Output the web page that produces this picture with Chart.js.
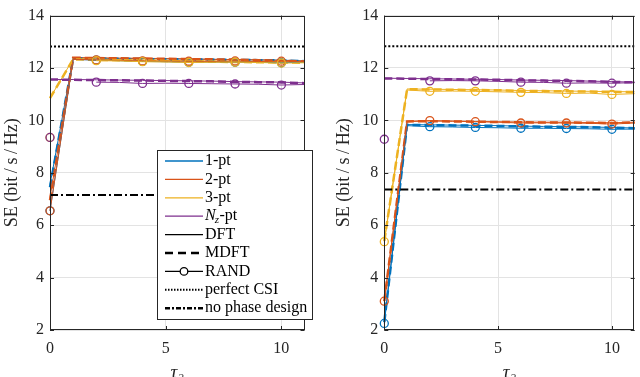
<!DOCTYPE html>
<html>
<head>
<meta charset="utf-8">
<script src="https://cdn.jsdelivr.net/npm/chart.js@4.4.1/dist/chart.umd.min.js"></script>
<style>
  html, body { margin: 0; padding: 0; background: #fff; }
  #wrap { position: relative; width: 640px; height: 377px; overflow: hidden; }
  canvas { position: absolute; top: 0; }
  #left { left: 0; }
  #right { left: 320px; }
</style>
</head>
<body>
<div id="wrap">
  <canvas id="left" width="320" height="377"></canvas>
  <canvas id="right" width="320" height="377"></canvas>
</div>
<script>
const tau = [0, 1, 2, 3, 4, 5, 6, 7, 8, 9, 10, 11];
const methods = ['1-pt', '2-pt', '3-pt', 'Nz-pt'];
const colors = ['#0072BD', '#D95319', '#EDB120', '#7E2F8E'];
const yTicks = [2, 4, 6, 8, 10, 12, 14];
const xTicks = [0, 5, 10];

// left panel
const leftDFT1  = [7.55, 12.38, 12.37, 12.36, 12.36, 12.35, 12.34, 12.33, 12.32, 12.31, 12.30, 12.27];
const leftMDFT1 = [7.45, 12.36, 12.36, 12.35, 12.34, 12.33, 12.33, 12.32, 12.31, 12.30, 12.29, 12.26];
const leftRAND1 = [6.55, 12.33, 12.30, 12.28, 12.25, 12.24, 12.22, 12.23, 12.22, 12.22, 12.20, 12.22];
const leftDFT2  = [7.05, 12.40, 12.39, 12.38, 12.37, 12.36, 12.35, 12.33, 12.32, 12.31, 12.29, 12.26];
const leftMDFT2 = [6.95, 12.39, 12.38, 12.37, 12.36, 12.35, 12.34, 12.33, 12.32, 12.30, 12.28, 12.25];
const leftRAND2 = [6.55, 12.33, 12.31, 12.29, 12.27, 12.26, 12.26, 12.25, 12.27, 12.25, 12.26, 12.24];
const leftDFT3  = [10.85, 12.35, 12.33, 12.32, 12.30, 12.29, 12.27, 12.26, 12.25, 12.24, 12.23, 12.21];
const leftMDFT3 = [10.85, 12.33, 12.31, 12.30, 12.28, 12.27, 12.25, 12.24, 12.23, 12.22, 12.21, 12.20];
const leftRAND3 = [9.35, null, 12.28, 12.27, 12.24, 12.23, 12.21, 12.22, 12.22, 12.21, 12.19, 12.20];
const leftDFTN  = [11.56, 11.56, 11.55, 11.54, 11.53, 11.52, 11.51, 11.50, 11.48, 11.47, 11.46, 11.43];
const leftMDFTN = [11.56, 11.55, 11.54, 11.53, 11.52, 11.51, 11.50, 11.49, 11.47, 11.46, 11.45, 11.42];
const leftRANDN = [9.35, null, 11.46, 11.45, 11.41, 11.42, 11.41, 11.40, 11.39, 11.38, 11.35, 11.37];
const leftPerfect = 12.82;
const leftNoPhase = 7.15;

// right panel
const rightDFT1  = [2.30, 9.84, 9.83, 9.82, 9.81, 9.80, 9.78, 9.77, 9.76, 9.75, 9.73, 9.71];
const rightMDFT1 = [2.30, 9.83, 9.82, 9.81, 9.80, 9.79, 9.77, 9.76, 9.75, 9.74, 9.72, 9.70];
const rightRAND1 = [2.25, 9.80, 9.76, 9.75, 9.73, 9.72, 9.70, 9.70, 9.69, 9.68, 9.66, 9.67];
const rightDFT2  = [3.10, 9.97, 9.98, 9.97, 9.96, 9.95, 9.94, 9.93, 9.93, 9.92, 9.91, 9.93];
const rightMDFT2 = [3.10, 9.96, 9.97, 9.96, 9.95, 9.94, 9.93, 9.92, 9.92, 9.91, 9.90, 9.92];
const rightRAND2 = [3.10, 9.95, 9.99, 9.97, 9.95, 9.93, 9.90, 9.91, 9.90, 9.89, 9.86, 9.90];
const rightDFT3  = [5.40, 11.20, 11.19, 11.18, 11.17, 11.16, 11.14, 11.13, 11.12, 11.11, 11.10, 11.09];
const rightMDFT3 = [5.40, 11.19, 11.18, 11.17, 11.16, 11.15, 11.13, 11.12, 11.11, 11.10, 11.09, 11.08];
const rightRAND3 = [5.37, 11.16, 11.11, 11.12, 11.11, 11.09, 11.07, 11.06, 11.03, 11.04, 10.99, 11.02];
const rightDFTN  = [11.61, 11.60, 11.59, 11.58, 11.57, 11.56, 11.54, 11.53, 11.52, 11.50, 11.48, 11.46];
const rightMDFTN = [11.60, 11.59, 11.58, 11.57, 11.56, 11.55, 11.53, 11.52, 11.51, 11.49, 11.47, 11.45];
const rightRANDN = [9.28, null, 11.51, 11.52, 11.51, 11.49, 11.46, 11.45, 11.42, 11.43, 11.42, 11.44];
const rightPerfect = 12.83;
const rightNoPhase = 7.36;

const FONT = "'Liberation Serif', 'Times New Roman', serif";
const AXIS = '#262626';
Chart.defaults.font.family = FONT;
Chart.defaults.color = AXIS;

const pts = (vals) => vals.map((v, i) => ({ x: tau[i], y: v }));
const flat = (v) => [{ x: tau[0], y: v }, { x: tau[tau.length - 1], y: v }];

function styled(kind, color, vals) {
  const ds = { data: pts(vals), borderColor: color, pointRadius: 0, clip: false, spanGaps: false, tension: 0 };
  if (kind === 'dft') ds.borderWidth = 1;
  if (kind === 'mdft') { ds.borderWidth = 2.5; ds.borderDash = [8, 4]; }
  if (kind === 'rand') {
    ds.borderWidth = 1;
    ds.pointRadius = (c) => (c.dataIndex % 2 === 0 ? 4 : 0);
    ds.pointBorderWidth = 1.3;
    ds.pointBorderColor = color;
    ds.pointBackgroundColor = 'rgba(0,0,0,0)';
  }
  return ds;
}

function buildDatasets(dft, mdft, rand, perfect, noPhase) {
  const sets = [];
  // first dataset is drawn on top
  sets.push({ data: flat(perfect), borderColor: '#000', borderWidth: 2, borderDash: [2, 2], pointRadius: 0 });
  sets.push({ data: flat(noPhase), borderColor: '#000', borderWidth: 2, borderDash: [8, 3, 2, 3], pointRadius: 0 });
  for (let m = 3; m >= 0; m--) sets.push(styled('rand', colors[m], rand[m]));
  for (let m = 3; m >= 0; m--) sets.push(styled('mdft', colors[m], mdft[m]));
  for (let m = 3; m >= 0; m--) sets.push(styled('dft', colors[m], dft[m]));
  return sets;
}

// box with inward ticks, like the matlab axes
const frame = {
  id: 'frame',
  afterDatasetsDraw(chart) {
    const { ctx, chartArea: a, scales } = chart;
    ctx.save();
    ctx.strokeStyle = AXIS;
    ctx.lineWidth = 1;
    ctx.strokeRect(Math.round(a.left) + 0.5, Math.round(a.top) + 0.5,
      Math.round(a.right - a.left) - 1, Math.round(a.bottom - a.top) - 1);
    ctx.beginPath();
    xTicks.forEach((t) => {
      const px = Math.round(scales.x.getPixelForValue(t)) + 0.5;
      ctx.moveTo(px, a.bottom); ctx.lineTo(px, a.bottom - 4);
      ctx.moveTo(px, a.top); ctx.lineTo(px, a.top + 4);
    });
    yTicks.forEach((t) => {
      const py = Math.round(scales.y.getPixelForValue(t)) + 0.5;
      ctx.moveTo(a.left, py); ctx.lineTo(a.left + 4, py);
      ctx.moveTo(a.right, py); ctx.lineTo(a.right - 4, py);
    });
    ctx.stroke();
    ctx.restore();
  }
};

const legendRows = [
  { text: '1-pt', color: colors[0] },
  { text: '2-pt', color: colors[1] },
  { text: '3-pt', color: colors[2] },
  { text: 'Nz-pt', color: colors[3] },
  { text: 'DFT', color: '#000' },
  { text: 'MDFT', color: '#000', width: 2.5, dash: [8, 5] },
  { text: 'RAND', color: '#000', marker: true },
  { text: 'perfect CSI', color: '#000', width: 2, dash: [1.5, 1.5] },
  { text: 'no phase design', color: '#000', width: 2.5, dash: [5, 2, 2, 2] }
];

const legendBox = {
  id: 'legendBox',
  afterDraw(chart) {
    const ctx = chart.ctx;
    const x0 = 157.5, y0 = 150.5, w = 155, h = 169;
    ctx.save();
    ctx.fillStyle = '#fff';
    ctx.fillRect(x0, y0, w, h);
    ctx.strokeStyle = AXIS;
    ctx.lineWidth = 1;
    ctx.strokeRect(x0, y0, w, h);
    legendRows.forEach((r, i) => {
      const y = 161 + i * 18.4;
      ctx.beginPath();
      ctx.strokeStyle = r.color;
      ctx.lineWidth = r.width || 1.3;
      ctx.setLineDash(r.dash || []);
      ctx.moveTo(165, y); ctx.lineTo(203, y);
      ctx.stroke();
      ctx.setLineDash([]);
      if (r.marker) {
        ctx.beginPath();
        ctx.lineWidth = 1.3;
        ctx.fillStyle = '#fff';
        ctx.arc(184, y, 3.8, 0, Math.PI * 2);
        ctx.fill();
        ctx.stroke();
      }
      ctx.fillStyle = '#000';
      ctx.textBaseline = 'middle';
      ctx.textAlign = 'left';
      if (r.text === 'Nz-pt') {
        ctx.font = 'italic 16px ' + FONT;
        ctx.fillText('N', 205, y);
        const wN = ctx.measureText('N').width;
        ctx.font = 'italic 11px ' + FONT;
        ctx.fillText('z', 205 + wN - 1, y + 4);
        const wz = ctx.measureText('z').width;
        ctx.font = '16px ' + FONT;
        ctx.fillText('-pt', 205 + wN + wz - 0.5, y);
      } else {
        ctx.font = '16px ' + FONT;
        ctx.fillText(r.text, 205, y);
      }
    });
    ctx.restore();
  }
};

function makeChart(id, datasets, opt) {
  return new Chart(document.getElementById(id), {
    type: 'line',
    data: { datasets },
    options: {
      responsive: false,
      animation: false,
      events: [],
      layout: { padding: { left: 0, right: opt.padRight, top: 9.5, bottom: 0 } },
      plugins: { legend: { display: false }, tooltip: { enabled: false } },
      scales: {
        x: {
          type: 'linear', min: 0, max: 11,
          afterBuildTicks: (s) => { s.ticks = xTicks.map((v) => ({ value: v })); },
          ticks: { font: { size: 16 }, color: AXIS, padding: 9, maxRotation: 0 },
          grid: { color: '#e3e3e3', drawTicks: false },
          border: { display: false },
          title: { display: true, text: 'τ₂', font: { size: 19, style: 'italic' }, color: AXIS, padding: { top: -7, bottom: -7 } },
          afterFit: (s) => { s.height = 47; }
        },
        y: {
          min: 2, max: 14,
          afterBuildTicks: (s) => { s.ticks = yTicks.map((v) => ({ value: v })); },
          ticks: { font: { size: 16 }, color: AXIS, padding: 6 },
          grid: { color: '#e3e3e3', drawTicks: false },
          border: { display: false },
          title: { display: true, text: 'SE (bit\u2009/\u2009s\u2009/\u2009Hz)', font: { size: 18 }, color: AXIS, padding: { top: opt.titlePad, bottom: 0 } },
          afterFit: (s) => { s.width = opt.yWidth; }
        }
      }
    },
    plugins: opt.legend ? [frame, legendBox] : [frame]
  });
}

makeChart('left',
  buildDatasets([leftDFT1, leftDFT2, leftDFT3, leftDFTN],
                [leftMDFT1, leftMDFT2, leftMDFT3, leftMDFTN],
                [leftRAND1, leftRAND2, leftRAND3, leftRANDN], leftPerfect, leftNoPhase),
  { yWidth: 50, padRight: 15.5, titlePad: 1, legend: true });

makeChart('right',
  buildDatasets([rightDFT1, rightDFT2, rightDFT3, rightDFTN],
                [rightMDFT1, rightMDFT2, rightMDFT3, rightMDFTN],
                [rightRAND1, rightRAND2, rightRAND3, rightRANDN], rightPerfect, rightNoPhase),
  { yWidth: 64.3, padRight: 2, titlePad: 13.7, legend: false });
</script>
</body>
</html>
